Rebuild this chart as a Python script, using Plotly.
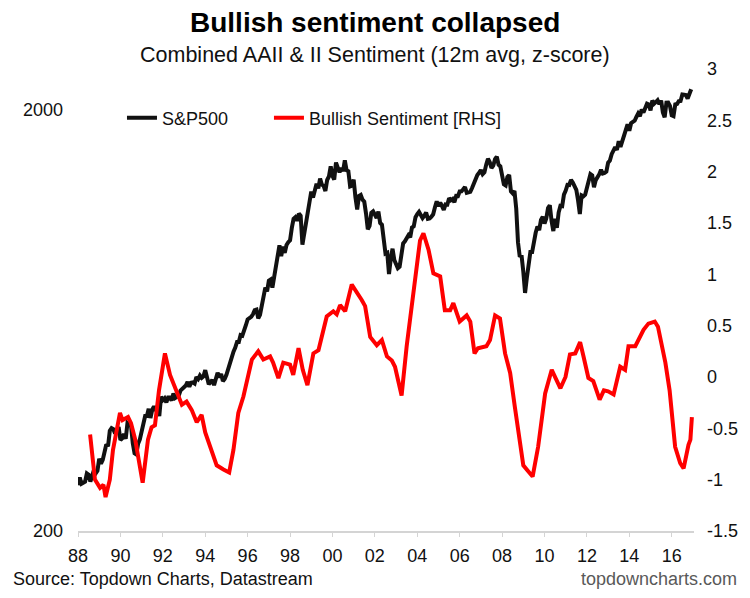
import plotly.graph_objects as go

# ---------------- data ----------------
# S&P 500 month-end levels, Jan 1988 .. Dec 2016
sp_1988_1995 = [
    257, 268, 259, 261, 262, 274, 272, 262, 272, 279, 274, 278,
    297, 289, 295, 310, 321, 318, 346, 351, 349, 341, 346, 353,
    329, 332, 340, 331, 361, 358, 356, 323, 306, 304, 322, 330,
    344, 367, 375, 375, 390, 371, 388, 395, 388, 392, 375, 417,
    409, 413, 404, 415, 415, 408, 424, 414, 418, 419, 431, 436,
    439, 443, 452, 440, 450, 451, 448, 464, 459, 468, 462, 466,
    482, 467, 446, 451, 457, 444, 458, 475, 463, 472, 454, 459,
    470, 487, 501, 515, 533, 545, 562, 562, 584, 582, 605, 616,
]
sp_1996_2003 = [
    636, 640, 645, 654, 669, 671, 640, 652, 687, 705, 757, 741,
    786, 791, 757, 801, 848, 885, 954, 899, 947, 915, 955, 970,
    980, 1049, 1102, 1112, 1091, 1134, 1121, 957, 1017, 1099, 1164, 1229,
    1280, 1238, 1286, 1335, 1302, 1373, 1329, 1320, 1283, 1363, 1389, 1469,
    1394, 1366, 1499, 1452, 1421, 1455, 1431, 1518, 1437, 1429, 1315, 1320,
    1366, 1240, 1160, 1249, 1256, 1224, 1211, 1134, 1041, 1060, 1139, 1148,
    1130, 1107, 1147, 1077, 1067, 990, 912, 916, 815, 886, 936, 880,
    856, 841, 848, 917, 964, 975, 990, 1008, 996, 1051, 1058, 1112,
]
sp_2004_2010 = [
    1131, 1145, 1126, 1107, 1121, 1141, 1102, 1104, 1115, 1130, 1174, 1212,
    1181, 1204, 1181, 1157, 1192, 1191, 1234, 1220, 1229, 1207, 1249, 1248,
    1280, 1281, 1295, 1311, 1270, 1270, 1277, 1304, 1336, 1378, 1401, 1418,
    1438, 1407, 1421, 1482, 1531, 1503, 1455, 1474, 1527, 1549, 1481, 1468,
    1379, 1331, 1323, 1386, 1400, 1280, 1267, 1283, 1166, 969, 896, 903,
    826, 735, 798, 873, 919, 919, 987, 1021, 1057, 1036, 1096, 1115,
    1074, 1104, 1169, 1187, 1089, 1031, 1102, 1049, 1141, 1183, 1181, 1258,
]
sp_2011_2016 = [
    1286, 1327, 1326, 1364, 1345, 1321, 1292, 1219, 1131, 1253, 1247, 1258,
    1312, 1366, 1408, 1398, 1310, 1362, 1379, 1407, 1441, 1412, 1416, 1426,
    1498, 1515, 1569, 1598, 1631, 1606, 1686, 1633, 1682, 1757, 1806, 1848,
    1783, 1859, 1872, 1884, 1924, 1960, 1931, 2003, 1972, 2018, 2068, 2059,
    1995, 2105, 2068, 2086, 2107, 2063, 2104, 1972, 1920, 2079, 2080, 2044,
    1940, 1932, 2060, 2065, 2097, 2099, 2174, 2171, 2168, 2126, 2199, 2239,
]
sp_values = sp_1988_1995 + sp_1996_2003 + sp_2004_2010 + sp_2011_2016
sp_start_year = 1988
sp_x = [sp_start_year + i / 12 for i in range(len(sp_values))]

# Bullish sentiment z-score (decimal year, value)
sent_x = [
    1988.57, 1988.80, 1989.04, 1989.20, 1989.30, 1989.50, 1989.65, 1989.98,
    1990.10, 1990.36, 1990.50, 1990.70, 1991.05, 1991.30, 1991.47, 1991.63,
    1991.82, 1992.10, 1992.34, 1992.65, 1992.90, 1993.12, 1993.36, 1993.60,
    1993.83, 1994.00, 1994.23, 1994.54, 1994.86, 1995.13, 1995.33, 1995.56,
    1995.80, 1996.03, 1996.20, 1996.50, 1996.74, 1997.06, 1997.20, 1997.45,
    1997.68, 1998.00, 1998.15, 1998.40, 1998.60, 1998.82, 1999.10, 1999.34,
    1999.73, 2000.04, 2000.20, 2000.36, 2000.60, 2000.91, 2001.15, 2001.38,
    2001.54, 2001.78, 2002.09, 2002.33, 2002.57, 2002.80, 2002.95, 2003.10,
    2003.26, 2003.50, 2003.82, 2004.13, 2004.29, 2004.53, 2004.76, 2005.08,
    2005.30, 2005.55, 2005.70, 2006.00, 2006.33, 2006.50, 2006.70, 2006.86,
    2007.26, 2007.43, 2007.67, 2007.90, 2008.14, 2008.38, 2008.60, 2008.85,
    2009.00, 2009.24, 2009.44, 2009.70, 2010.03, 2010.34, 2010.50, 2010.75,
    2010.99, 2011.20, 2011.45, 2011.68, 2011.84, 2012.07, 2012.30, 2012.60,
    2012.80, 2013.00, 2013.26, 2013.40, 2013.57, 2013.80, 2013.96, 2014.28,
    2014.43, 2014.67, 2014.90, 2015.20, 2015.35, 2015.70, 2015.90, 2016.16,
    2016.40, 2016.56, 2016.79, 2016.88, 2016.95,
]
sent_values = [
    -0.56, -1.00, -1.08, -1.05, -1.17, -1.00, -0.71, -0.35,
    -0.42, -0.39, -0.45, -0.61, -1.03, -0.61, -0.49, -0.47,
    -0.13, 0.23, 0.02, -0.15, -0.27, -0.24, -0.32, -0.44,
    -0.37, -0.54, -0.68, -0.86, -0.90, -0.93, -0.71, -0.35,
    -0.19, 0.04, 0.17, 0.25, 0.17, 0.20, 0.14, -0.01,
    0.14, 0.12, 0.02, 0.28, 0.07, -0.08, 0.23, 0.26,
    0.59, 0.64, 0.61, 0.70, 0.64, 0.90, 0.83, 0.75,
    0.69, 0.39, 0.31, 0.36, 0.20, 0.16, 0.10, -0.05,
    -0.18, 0.30, 0.85, 1.33, 1.40, 1.24, 1.01, 0.98,
    0.65, 0.65, 0.72, 0.54, 0.60, 0.54, 0.23, 0.28,
    0.30, 0.36, 0.60, 0.57, 0.23, 0.04, -0.29, -0.61,
    -0.86, -0.92, -0.97, -0.68, -0.16, 0.07, 0.00, -0.11,
    0.00, 0.22, 0.23, 0.34, 0.20, -0.01, -0.04, -0.22,
    -0.13, -0.14, -0.17, -0.06, 0.10, 0.07, 0.30, 0.30,
    0.36, 0.46, 0.52, 0.54, 0.49, 0.14, -0.13, -0.68,
    -0.84, -0.89, -0.66, -0.61, -0.39,
]

x_tick_years = [1988, 1990, 1992, 1994, 1996, 1998, 2000, 2002, 2004,
                2006, 2008, 2010, 2012, 2014, 2016]
x_tick_labels = ["88", "90", "92", "94", "96", "98", "00", "02", "04",
                 "06", "08", "10", "12", "14", "16"]
left_ticks = [200, 2000]
left_tick_labels = ["200", "2000"]
right_ticks = [-1.5, -1, -0.5, 0, 0.5, 1, 1.5, 2, 2.5, 3]
right_tick_labels = ["-1.5", "-1", "-0.5", "0", "0.5", "1", "1.5", "2", "2.5", "3"]

FONT = "Arial, Liberation Sans, sans-serif"

fig = go.Figure()
fig.add_trace(go.Scatter(
    x=sp_x, y=sp_values, mode="lines", name="S&P500",
    line=dict(color="#111111", width=4), yaxis="y", legend="legend",
))
fig.add_trace(go.Scatter(
    x=sent_x, y=sent_values, mode="lines", name="Bullish Sentiment [RHS]",
    line=dict(color="#ff0000", width=4), yaxis="y2", legend="legend2",
))

# page body has an 8px margin, so the figure is 742x590 with matching offsets
fig.update_layout(
    width=742, height=590,
    margin=dict(l=70, r=56, t=61, b=67),
    paper_bgcolor="white", plot_bgcolor="white",
    font=dict(family=FONT, size=18, color="#111111"),
    xaxis=dict(
        range=[1988, 2017.05], tickvals=x_tick_years, ticktext=x_tick_labels,
        showgrid=False, zeroline=False, showline=True, linecolor="#d4d4d4",
        linewidth=1.5, ticks="outside", ticklen=4, tickcolor="#d4d4d4",
        tickwidth=1, ticklabelstandoff=4,
        tickfont=dict(size=18, color="#111111"),
    ),
    yaxis=dict(
        type="log", range=[2.30103, 3.398], tickvals=left_ticks,
        ticktext=left_tick_labels, showgrid=False, zeroline=False,
        showline=False, ticks="", ticklabelstandoff=14,
        tickfont=dict(size=18, color="#111111"),
    ),
    yaxis2=dict(
        overlaying="y", side="right", range=[-1.5, 3],
        tickvals=right_ticks, ticktext=right_tick_labels,
        showgrid=False, zeroline=False, showline=False, ticks="",
        ticklabelstandoff=12, tickfont=dict(size=18, color="#111111"),
    ),
    legend=dict(
        orientation="h", x=0.0714, y=0.894, xanchor="left", yanchor="middle",
        bgcolor="rgba(0,0,0,0)", font=dict(size=18, color="#111111"),
    ),
    legend2=dict(
        orientation="h", x=0.310, y=0.894, xanchor="left", yanchor="middle",
        bgcolor="rgba(0,0,0,0)", font=dict(size=18, color="#111111"),
    ),
    showlegend=True,
)

fig.add_annotation(
    text="<b>Bullish sentiment collapsed</b>", xref="paper", yref="paper",
    x=0.482, y=(531 - 22) / 462, xanchor="center", yanchor="middle",
    showarrow=False, font=dict(size=28, color="#000000", family=FONT),
)
fig.add_annotation(
    text="Combined AAII & II Sentiment (12m avg, z-score)", xref="paper",
    yref="paper", x=0.482, y=(531 - 55) / 462, xanchor="center",
    yanchor="middle", showarrow=False,
    font=dict(size=21.5, color="#111111", family=FONT),
)
fig.add_annotation(
    text="Source: Topdown Charts, Datastream", xref="paper", yref="paper",
    x=(11 - 78) / 616, y=(531 - 579) / 462, xanchor="left", yanchor="middle",
    showarrow=False, font=dict(size=18, color="#111111", family=FONT),
)
fig.add_annotation(
    text="topdowncharts.com", xref="paper", yref="paper",
    x=(739 - 78) / 616, y=(531 - 579) / 462, xanchor="right",
    yanchor="middle", showarrow=False,
    font=dict(size=18, color="#595959", family=FONT),
)

fig.write_html("out.html")
